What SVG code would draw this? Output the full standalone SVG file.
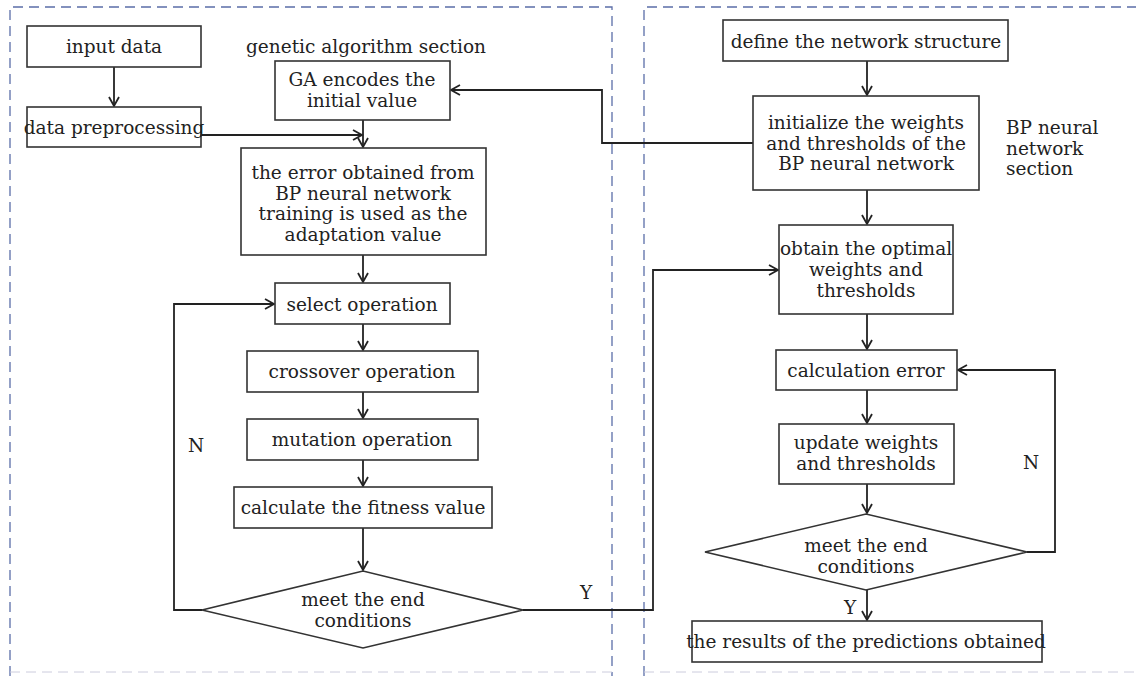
<svg xmlns="http://www.w3.org/2000/svg" width="1136" height="676" viewBox="0 0 1136 676">
<style>
.box{fill:#fff;stroke:#333;stroke-width:1.6}
.t{font-family:"DejaVu Serif","Liberation Serif",serif;font-size:18.5px;fill:#222;text-anchor:middle;dominant-baseline:central}
.l{font-family:"DejaVu Serif","Liberation Serif",serif;font-size:18.5px;fill:#222;dominant-baseline:central}
.c{fill:none;stroke:#222;stroke-width:1.8}
.panel{fill:none;stroke:#5b6ea8;stroke-width:1.3;stroke-dasharray:10 6}
</style>
<defs>
<marker id="ah" markerWidth="12" markerHeight="12" refX="10" refY="6" orient="auto" markerUnits="userSpaceOnUse">
<path d="M1,1 L10,6 L1,11" fill="none" stroke="#222" stroke-width="1.8"/>
</marker>
</defs>
<rect width="1136" height="676" fill="#fff"/>
<g id="panels">
<path class="panel" d="M10,676 L10,7 L612,7 L612,676"/>
<path class="panel" d="M644,676 L644,7 L1140,7"/>
<path d="M10,672 L612,672 M644,672 L1136,672" fill="none" stroke="#ccd" stroke-width="1" stroke-dasharray="10 6"/>
</g>
<g id="connectors">
<path class="c" d="M114,67 L114,106" marker-end="url(#ah)"/>
<path class="c" d="M201,135 L362,135" marker-end="url(#ah)"/>
<path class="c" d="M363,120 L363,147" marker-end="url(#ah)"/>
<path class="c" d="M363,255 L363,282" marker-end="url(#ah)"/>
<path class="c" d="M363,324 L363,350" marker-end="url(#ah)"/>
<path class="c" d="M363,392 L363,418" marker-end="url(#ah)"/>
<path class="c" d="M363,460 L363,486" marker-end="url(#ah)"/>
<path class="c" d="M363,528 L363,570" marker-end="url(#ah)"/>
<path class="c" d="M202,610 L174,610 L174,304 L274,304" marker-end="url(#ah)"/>
<path class="c" d="M523,610 L653,610 L653,270 L778,270" marker-end="url(#ah)"/>
<path class="c" d="M753,143 L602,143 L602,90 L451,90" marker-end="url(#ah)"/>
<path class="c" d="M867,61 L867,95" marker-end="url(#ah)"/>
<path class="c" d="M867,190 L867,224" marker-end="url(#ah)"/>
<path class="c" d="M867,314 L867,349" marker-end="url(#ah)"/>
<path class="c" d="M867,390 L867,423" marker-end="url(#ah)"/>
<path class="c" d="M867,484 L867,513" marker-end="url(#ah)"/>
<path class="c" d="M1027,552 L1055,552 L1055,370 L958,370" marker-end="url(#ah)"/>
<path class="c" d="M867,590 L867,620" marker-end="url(#ah)"/>
<text class="t" x="196" y="445">N</text>
<text class="t" x="586" y="592">Y</text>
<text class="t" x="1031" y="462">N</text>
<text class="t" x="850" y="607">Y</text>
</g>
<g id="input-data"><rect class="box" x="27" y="26" width="174" height="41"/><text class="t" x="114" y="46">input data</text></g>
<g id="data-preprocessing"><rect class="box" x="27" y="107" width="174" height="40"/><text class="t" x="114" y="127">data preprocessing</text></g>
<g id="ga-label"><text class="t" x="366" y="46">genetic algorithm section</text></g>
<g id="ga-encode"><rect class="box" x="275" y="61" width="175" height="59"/><text class="t" x="362" y="79">GA encodes the</text><text class="t" x="362" y="100">initial value</text></g>
<g id="error-adapt"><rect class="box" x="241" y="148" width="245" height="107"/>
<text class="t" x="363" y="172">the error obtained from</text><text class="t" x="363" y="193">BP neural network</text><text class="t" x="363" y="213">training is used as the</text><text class="t" x="363" y="234">adaptation value</text></g>
<g id="select"><rect class="box" x="275" y="283" width="175" height="41"/><text class="t" x="362" y="304">select operation</text></g>
<g id="crossover"><rect class="box" x="247" y="351" width="231" height="41"/><text class="t" x="362" y="371">crossover operation</text></g>
<g id="mutation"><rect class="box" x="247" y="419" width="231" height="41"/><text class="t" x="362" y="439">mutation operation</text></g>
<g id="fitness"><rect class="box" x="234" y="487" width="258" height="41"/><text class="t" x="363" y="507">calculate the fitness value</text></g>
<g id="end-ga"><polygon class="box" points="202,610 363,571 523,610 363,648"/><text class="t" x="363" y="599">meet the end</text><text class="t" x="363" y="620">conditions</text></g>
<g id="define"><rect class="box" x="723" y="20" width="285" height="41"/><text class="t" x="866" y="41">define the network structure</text></g>
<g id="init"><rect class="box" x="753" y="96" width="226" height="94"/><text class="t" x="866" y="122">initialize the weights</text><text class="t" x="866" y="143">and thresholds of the</text><text class="t" x="866" y="163">BP neural network</text></g>
<g id="bp-label"><text class="l" x="1006" y="127">BP neural</text><text class="l" x="1006" y="148">network</text><text class="l" x="1006" y="168">section</text></g>
<g id="optimal"><rect class="box" x="779" y="225" width="174" height="89"/><text class="t" x="866" y="248">obtain the optimal</text><text class="t" x="866" y="269">weights and</text><text class="t" x="866" y="290">thresholds</text></g>
<g id="calc-error"><rect class="box" x="776" y="350" width="181" height="40"/><text class="t" x="866" y="370">calculation error</text></g>
<g id="update"><rect class="box" x="779" y="424" width="175" height="60"/><text class="t" x="866" y="442">update weights</text><text class="t" x="866" y="463">and thresholds</text></g>
<g id="end-bp"><polygon class="box" points="705,552 866,514 1027,552 866,590"/><text class="t" x="866" y="545">meet the end</text><text class="t" x="866" y="566">conditions</text></g>
<g id="result"><rect class="box" x="692" y="621" width="350" height="41"/><text class="t" x="866" y="641">the results of the predictions obtained</text></g>
</svg>
